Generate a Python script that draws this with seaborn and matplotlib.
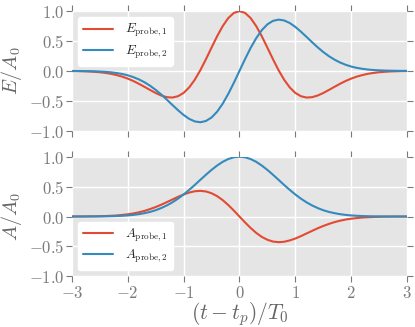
import numpy as np
import pandas as pd
import matplotlib
matplotlib.use('Agg')
import matplotlib.pyplot as plt
import seaborn as sns

# time grid (t - t_p)/T_0
t = np.linspace(-3, 3, 61)

e_probe1 = [-0.002, -0.003, -0.006, -0.009, -0.015, -0.022, -0.033, -0.048, -0.069, -0.095,
            -0.128, -0.168, -0.215, -0.266, -0.318, -0.369, -0.411, -0.439, -0.445, -0.423,
            -0.368, -0.276, -0.148, 0.012, 0.195, 0.389, 0.579, 0.749, 0.884, 0.970,
            1.000,
            0.970, 0.884, 0.749, 0.579, 0.389, 0.195, 0.012, -0.148, -0.276, -0.368,
            -0.423, -0.445, -0.439, -0.411, -0.369, -0.318, -0.266, -0.215, -0.168, -0.128,
            -0.095, -0.069, -0.048, -0.033, -0.022, -0.015, -0.009, -0.006, -0.003, -0.002]
e_probe2 = [-0.001, -0.001, -0.002, -0.004, -0.006, -0.010, -0.015, -0.023, -0.035, -0.051,
            -0.073, -0.103, -0.141, -0.189, -0.247, -0.316, -0.394, -0.480, -0.569, -0.656,
            -0.736, -0.801, -0.844, -0.858, -0.837, -0.779, -0.682, -0.548, -0.384, -0.198,
            0.000,
            0.198, 0.384, 0.548, 0.682, 0.779, 0.837, 0.858, 0.844, 0.801, 0.736,
            0.656, 0.569, 0.480, 0.394, 0.316, 0.247, 0.189, 0.141, 0.103, 0.073,
            0.051, 0.035, 0.023, 0.015, 0.010, 0.006, 0.004, 0.002, 0.001, 0.001]
a_probe1 = [0.000, 0.001, 0.001, 0.002, 0.003, 0.005, 0.008, 0.012, 0.017, 0.026,
            0.037, 0.051, 0.070, 0.094, 0.124, 0.158, 0.197, 0.240, 0.284, 0.328,
            0.368, 0.400, 0.422, 0.429, 0.419, 0.389, 0.341, 0.274, 0.192, 0.099,
            0.000,
            -0.099, -0.192, -0.274, -0.341, -0.389, -0.419, -0.429, -0.422, -0.400, -0.368,
            -0.328, -0.284, -0.240, -0.197, -0.158, -0.124, -0.094, -0.070, -0.051, -0.037,
            -0.026, -0.017, -0.012, -0.008, -0.005, -0.003, -0.002, -0.001, -0.001, 0.000]
a_probe2 = [0.000, 0.000, 0.000, 0.001, 0.001, 0.002, 0.003, 0.005, 0.008, 0.012,
            0.018, 0.027, 0.039, 0.056, 0.077, 0.105, 0.141, 0.185, 0.237, 0.298,
            0.368, 0.445, 0.527, 0.613, 0.698, 0.779, 0.852, 0.914, 0.961, 0.990,
            1.000,
            0.990, 0.961, 0.914, 0.852, 0.779, 0.698, 0.613, 0.527, 0.445, 0.368,
            0.298, 0.237, 0.185, 0.141, 0.105, 0.077, 0.056, 0.039, 0.027, 0.018,
            0.012, 0.008, 0.005, 0.003, 0.002, 0.001, 0.001, 0.000, 0.000, 0.000]

xticks = [-3, -2, -1, 0, 1, 2, 3]
xticklabels = [r'$-3$', r'$-2$', r'$-1$', r'$0$', r'$1$', r'$2$', r'$3$']
yticks = [-1.0, -0.5, 0.0, 0.5, 1.0]
yticklabels = [r'$-1.0$', r'$-0.5$', r'$0.0$', r'$0.5$', r'$1.0$']

red = '#E24A33'
blue = '#348ABD'

sns.set_theme(style='darkgrid', rc={
    'axes.facecolor': '#E5E5E5',
    'axes.edgecolor': 'white',
    'grid.color': 'white',
    'grid.linewidth': 1.0,
    'xtick.color': '#7a7a7a',
    'ytick.color': '#7a7a7a',
    'axes.labelcolor': '#666666',
})
plt.rcParams['mathtext.fontset'] = 'cm'
plt.rcParams['font.family'] = ['DejaVu Sans']

df = pd.DataFrame({'t': t, 'E1': e_probe1, 'E2': e_probe2, 'A1': a_probe1, 'A2': a_probe2})

fig, (ax1, ax2) = plt.subplots(2, 1, figsize=(4.15, 3.27), dpi=100, sharex=True)
fig.subplots_adjust(left=0.173, right=0.981, top=0.966, bottom=0.155, hspace=0.217)

sns.lineplot(data=df, x='t', y='E1', ax=ax1, color=red, lw=1.5, label=r'$E_{\rm probe,1}$')
sns.lineplot(data=df, x='t', y='E2', ax=ax1, color=blue, lw=1.5, label=r'$E_{\rm probe,2}$')
sns.lineplot(data=df, x='t', y='A1', ax=ax2, color=red, lw=1.5, label=r'$A_{\rm probe,1}$')
sns.lineplot(data=df, x='t', y='A2', ax=ax2, color=blue, lw=1.5, label=r'$A_{\rm probe,2}$')

for ax in (ax1, ax2):
    ax.set_xlim(-3, 3)
    ax.set_ylim(-1, 1)
    ax.set_yticks(yticks)
    ax.set_yticklabels(yticklabels)
    ax.tick_params(axis='both', which='both', direction='out', length=4, width=0.8,
                   top=True, right=True, bottom=True, left=True, labelsize=12, pad=1.5)
    for s in ax.spines.values():
        s.set_visible(False)

ax2.set_xticks(xticks)
ax2.set_xticklabels(xticklabels)
ax1.tick_params(labelbottom=False)

ax1.set_xlabel('')
ax1.set_ylabel(r'$E/A_0$', fontsize=14.5, labelpad=3)
ax2.set_ylabel(r'$A/A_0$', fontsize=14.5, labelpad=3)
ax2.set_xlabel(r'$(t-t_p)/T_0$', fontsize=15.5, labelpad=-1)

legkw = dict(fontsize=9.5, frameon=True, facecolor='white', edgecolor='white',
             framealpha=1, borderaxespad=0.45, borderpad=0.4, handlelength=2.3,
             handletextpad=0.9, labelspacing=0.3)
ax1.legend(loc='upper left', **legkw)
ax2.legend(loc='lower left', **legkw)

fig.savefig('out.png', dpi=100)
